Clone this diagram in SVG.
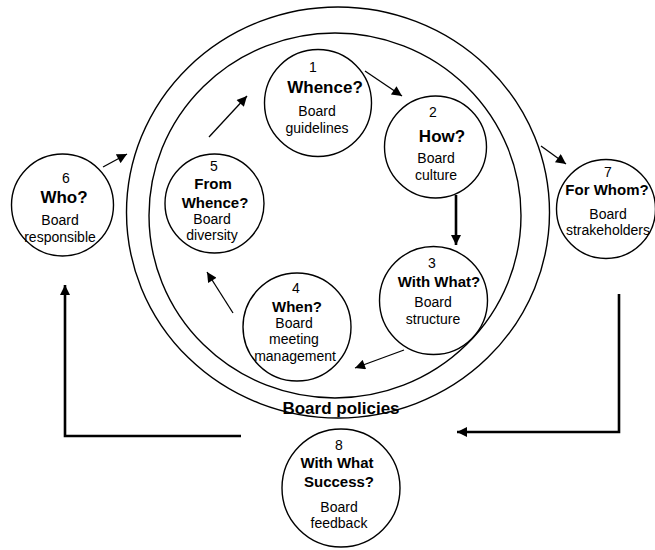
<svg xmlns="http://www.w3.org/2000/svg" width="655" height="550" viewBox="0 0 655 550">
<style>
text{font-family:"Liberation Sans",Arial,Helvetica,sans-serif;fill:#000;text-anchor:middle}
.n{font-size:14px}
.b{font-size:15px;font-weight:bold}
.bb{font-size:17px;font-weight:bold}
.c{fill:#fff;stroke:#000;stroke-width:1.4}
.ring{fill:none;stroke:#000;stroke-width:1.4}
.a{fill:none;stroke:#000;stroke-width:1.3}
.t{fill:none;stroke:#000;stroke-width:2.6}
</style>
<defs>
<marker id="ah" viewBox="0 0 10 10" refX="10" refY="5" markerWidth="12" markerHeight="10" markerUnits="userSpaceOnUse" orient="auto">
<path d="M0,0 L10,5 L0,10 z" fill="#000"/>
</marker>
<marker id="ahT" viewBox="0 0 10 10" refX="10" refY="5" markerWidth="10" markerHeight="10" markerUnits="userSpaceOnUse" orient="auto">
<path d="M0,0 L10,5 L0,10 z" fill="#000"/>
</marker>
</defs>
<rect width="655" height="550" fill="#fff"/>
<g id="policies">
<ellipse class="ring" cx="338" cy="212.5" rx="211.5" ry="205.5"/>
<ellipse class="ring" cx="335" cy="215.5" rx="186" ry="182.5"/>
<text class="bb" x="341" y="414">Board policies</text>
</g>
<g id="node1">
<circle class="c" cx="318" cy="103" r="53.5"/>
<text class="n" x="313" y="72">1</text>
<text class="bb" x="325" y="93">Whence?</text>
<text class="n" x="317" y="116">Board</text>
<text class="n" x="317" y="133">guidelines</text>
</g>
<g id="node2">
<circle class="c" cx="435.5" cy="147" r="51"/>
<text class="n" x="433" y="117">2</text>
<text class="bb" x="442" y="142">How?</text>
<text class="n" x="436" y="163">Board</text>
<text class="n" x="436" y="180">culture</text>
</g>
<g id="node3">
<circle class="c" cx="433.5" cy="300.5" r="54"/>
<text class="n" x="432" y="268">3</text>
<text class="b" x="439" y="287">With What?</text>
<text class="n" x="433" y="307">Board</text>
<text class="n" x="433" y="324">structure</text>
</g>
<g id="node4">
<circle class="c" cx="297" cy="327" r="54"/>
<text class="n" x="296" y="293">4</text>
<text class="b" x="297" y="312">When?</text>
<text class="n" x="294" y="328">Board</text>
<text class="n" x="294" y="344">meeting</text>
<text class="n" x="295" y="361">management</text>
</g>
<g id="node5">
<circle class="c" cx="214.5" cy="203.5" r="49.5"/>
<text class="n" x="214" y="171">5</text>
<text class="b" x="213" y="189">From</text>
<text class="b" x="215" y="208">Whence?</text>
<text class="n" x="212" y="224">Board</text>
<text class="n" x="212" y="240">diversity</text>
</g>
<g id="node6">
<circle class="c" cx="62.5" cy="205" r="51"/>
<text class="n" x="66" y="183">6</text>
<text class="bb" x="64" y="203">Who?</text>
<text class="n" x="60" y="225">Board</text>
<text class="n" x="60" y="242">responsible</text>
</g>
<g id="node7">
<circle class="c" cx="606" cy="209" r="49.5"/>
<text class="n" x="608" y="177">7</text>
<text class="b" x="607" y="195">For Whom?</text>
<text class="n" x="608" y="219">Board</text>
<text class="n" x="608" y="235">strakeholders</text>
</g>
<g id="node8">
<circle class="c" cx="341" cy="488" r="59"/>
<text class="n" x="339" y="450">8</text>
<text class="b" x="337" y="468">With What</text>
<text class="b" x="339" y="487">Success?</text>
<text class="n" x="339" y="512">Board</text>
<text class="n" x="339" y="528">feedback</text>
</g>
<g id="connectors">
<line class="a" x1="365" y1="71" x2="402" y2="96" marker-end="url(#ah)"/>
<line class="t" x1="456" y1="195" x2="456" y2="245" marker-end="url(#ahT)"/>
<line class="a" x1="404" y1="350" x2="355" y2="368" marker-end="url(#ah)"/>
<line class="a" x1="233" y1="313" x2="207" y2="272" marker-end="url(#ah)"/>
<line class="a" x1="209" y1="137" x2="247" y2="96" marker-end="url(#ah)"/>
<line class="a" x1="103" y1="167" x2="127" y2="154" marker-end="url(#ah)"/>
<line class="a" x1="541" y1="146" x2="566" y2="164" marker-end="url(#ah)"/>
<polyline class="t" points="619,294 619,432 457,432" marker-end="url(#ahT)"/>
<polyline class="t" points="241,436 65,436 65,285" marker-end="url(#ahT)"/>
</g>
</svg>
